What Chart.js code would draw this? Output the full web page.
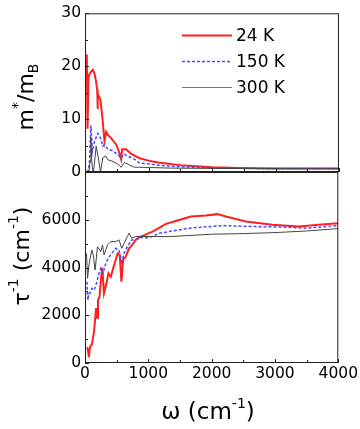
<!DOCTYPE html>
<html>
<head>
<meta charset="utf-8">
<script src="https://cdn.jsdelivr.net/npm/chart.js@4.4.1/dist/chart.umd.min.js"></script>
<style>
    html, body { margin: 0; padding: 0; background: #fff; }
    #wrap { position: relative; width: 360px; height: 429px; }
    #wrap canvas { position: absolute; left: 0; top: 0; }
</style>
</head>
<body>
<div id="wrap">
    <canvas id="bottomChart" width="360" height="429"></canvas>
    <canvas id="topChart" width="360" height="429"></canvas>
</div>
<script>
// effective mass m*/mB (top panel)
const massW24 = [28, 40, 55, 71, 100, 123, 150, 176, 192, 198, 204, 244, 281, 307, 333, 360, 412, 491, 543, 570, 585, 648, 727, 860, 1000, 1150, 1380, 1500, 1750, 2000, 2430, 3000, 3500, 4000];
const mass24 = [22.2, 8.2, 17.8, 18.6, 19.0, 19.3, 18.6, 17.0, 15.5, 11.9, 14.7, 13.7, 9.4, 5.8, 7.6, 7.0, 6.4, 5.2, 3.6, 2.4, 4.3, 4.3, 3.4, 2.6, 2.15, 1.8, 1.45, 1.3, 1.08, 0.92, 0.76, 0.68, 0.66, 0.64];

const massW150 = [22, 45, 70, 92, 118, 150, 202, 244, 281, 307, 360, 438, 518, 570, 612, 675, 780, 860, 1015, 1200, 1400, 1700, 2000, 2500, 3000, 4000];
const mass150 = [0, 0.2, 1.5, 8.8, 4.0, 5.8, 7.3, 6.4, 4.9, 5.2, 4.3, 4.0, 3.3, 2.6, 3.4, 3.0, 2.4, 1.7, 1.5, 1.25, 1.04, 0.9, 0.78, 0.7, 0.66, 0.64];

const massW300 = [22, 60, 80, 92, 105, 118, 134, 176, 205, 244, 280, 330, 360, 440, 518, 570, 622, 700, 780, 860, 1015, 1380, 2000, 2500, 3000, 4000];
const mass300 = [0, 0, 2.0, 6.6, 2.5, 0.4, 0, 4.9, 3.0, 0, 2.7, 3.0, 2.3, 2.0, 1.5, 0.9, 1.8, 1.3, 0.9, 0.9, 0.85, 0.73, 0.68, 0.65, 0.63, 0.62];

// scattering rate 1/tau (bottom panel)
const rateW24 = [35, 50, 62, 80, 110, 145, 175, 190, 205, 230, 250, 272, 300, 339, 370, 407, 460, 517, 549, 575, 602, 643, 696, 748, 800, 880, 1010, 1068, 1279, 1500, 1672, 1909, 2092, 2225, 2539, 2958, 3378, 3693, 4000];
const rate24 = [672, 480, 250, 680, 780, 1374, 2300, 1900, 2634, 2773, 3475, 4000, 2916, 3336, 3756, 3614, 4105, 4600, 4525, 3403, 4315, 4454, 4806, 4946, 5155, 5294, 5437, 5504, 5828, 6000, 6134, 6176, 6235, 6134, 5924, 5786, 5714, 5786, 5857];

const rateW150 = [30, 45, 60, 76, 108, 145, 181, 213, 250, 286, 328, 370, 422, 486, 538, 580, 617, 669, 738, 800, 880, 1000, 1173, 1646, 2170, 2696, 3221, 3483, 4000];
const rate150 = [3400, 2634, 2916, 2916, 3126, 3056, 3336, 3685, 3966, 3756, 4176, 4386, 4597, 4806, 4735, 4244, 4597, 4876, 5155, 5155, 5260, 5230, 5437, 5647, 5756, 5714, 5689, 5647, 5756];

const rateW300 = [24, 40, 66, 108, 130, 160, 197, 250, 276, 302, 355, 407, 486, 538, 580, 617, 669, 696, 738, 800, 900, 1331, 2000, 2500, 3000, 3500, 4000];
const rate300 = [4597, 3546, 4176, 4735, 4525, 3895, 4874, 4664, 4945, 4525, 4945, 5084, 5084, 5155, 4806, 5015, 5294, 5437, 5224, 5294, 5300, 5294, 5394, 5420, 5462, 5530, 5630];

const seriesLabels = ['24 K', '150 K', '300 K'];
const xTicks = [0, 1000, 2000, 3000, 4000];

const FONT = '"DejaVu Sans", sans-serif';
const styles = [
    { borderColor: '#ff1f1f', borderWidth: 2, borderDash: [] },
    { borderColor: '#4a4aff', borderWidth: 1.5, borderDash: [3, 2] },
    { borderColor: '#444444', borderWidth: 1, borderDash: [] },
];

function toPoints(xs, ys) {
    return xs.map((x, i) => ({ x: x, y: ys[i] }));
}

function makeSets(pairs) {
    return pairs.map((p, i) => ({
        label: seriesLabels[i],
        data: toPoints(p[0], p[1]),
        ...styles[i],
        pointRadius: 0,
        tension: 0,
        fill: false,
    }));
}

// draws text pieces with super/subscripts along one baseline
function drawRich(ctx, parts, x, y, rotated) {
    ctx.save();
    ctx.translate(x, y);
    if (rotated) ctx.rotate(-Math.PI / 2);
    let total = 0;
    parts.forEach(p => {
        ctx.font = p.s + 'px ' + FONT;
        total += ctx.measureText(p.t).width;
    });
    let cx = -total / 2;
    ctx.fillStyle = '#000';
    ctx.textBaseline = 'alphabetic';
    ctx.textAlign = 'left';
    parts.forEach(p => {
        ctx.font = p.s + 'px ' + FONT;
        ctx.fillText(p.t, cx, p.dy || 0);
        cx += ctx.measureText(p.t).width;
    });
    ctx.restore();
}

// frame and inward ticks
const framePlugin = {
    id: 'frame',
    afterDatasetsDraw(chart, args, opts) {
        const ctx = chart.ctx;
        const a = chart.chartArea;
        ctx.save();
        ctx.strokeStyle = '#222';
        ctx.lineWidth = 1;
        ctx.strokeRect(a.left + 0.5, a.top + 0.5, a.right - a.left - 1, a.bottom - a.top - 1);
        const xs = chart.scales.x;
        xs.ticks.forEach(t => {
            const px = Math.round(xs.getPixelForValue(t.value)) + 0.5;
            const len = t.value % 1000 === 0 ? 4 : 3;
            ctx.beginPath();
            ctx.moveTo(px, a.bottom);
            ctx.lineTo(px, a.bottom - len);
            ctx.stroke();
        });
        const ys = chart.scales.y;
        ys.ticks.forEach(t => {
            const py = Math.round(ys.getPixelForValue(t.value)) + 0.5;
            const len = t.value % opts.major === 0 ? 4 : 3;
            ctx.beginPath();
            ctx.moveTo(a.left, py);
            ctx.lineTo(a.left + len, py);
            ctx.stroke();
        });
        ctx.restore();
    }
};

const topLegend = {
    id: 'topLegend',
    afterDraw(chart) {
        const ctx = chart.ctx;
        const rows = [35.5, 61.5, 87.5];
        ctx.save();
        rows.forEach((y, i) => {
            ctx.strokeStyle = i === 2 ? '#777' : styles[i].borderColor;
            ctx.lineWidth = styles[i].borderWidth;
            ctx.setLineDash(styles[i].borderDash);
            ctx.beginPath();
            ctx.moveTo(182, y);
            ctx.lineTo(232, y);
            ctx.stroke();
            ctx.setLineDash([]);
            ctx.fillStyle = '#000';
            ctx.font = '17px ' + FONT;
            ctx.textBaseline = 'middle';
            ctx.fillText(seriesLabels[i], 236, y + 1);
        });
        drawRich(ctx, [
            { t: 'm', s: 22 },
            { t: '*', s: 14, dy: -11 },
            { t: '/m', s: 22 },
            { t: 'B', s: 14, dy: 5 },
        ], 33, 97, true);
        ctx.restore();
    }
};

const bottomTitles = {
    id: 'bottomTitles',
    afterDraw(chart) {
        const ctx = chart.ctx;
        drawRich(ctx, [
            { t: 'ω (cm', s: 23 },
            { t: '-1', s: 14, dy: -11 },
            { t: ')', s: 23 },
        ], 208, 419, false);
        drawRich(ctx, [
            { t: 'τ', s: 22 },
            { t: '-1', s: 14, dy: -11 },
            { t: ' (cm', s: 22 },
            { t: '-1', s: 14, dy: -11 },
            { t: ')', s: 22 },
        ], 29, 256, true);
    }
};

function baseOptions(top) {
    return {
        responsive: false,
        animation: false,
        devicePixelRatio: 1,
        layout: { padding: top ? { left: 0, top: 7, right: 21, bottom: 257 } : { left: 0, top: 172, right: 21, bottom: 0 } },
        plugins: { legend: { display: false }, tooltip: { enabled: false } },
        scales: {
            x: {
                type: 'linear',
                min: 0,
                max: 4000,
                display: !top,
                grid: { display: false, drawTicks: false },
                border: { display: false },
                ticks: {
                    stepSize: 500,
                    autoSkip: false,
                    maxRotation: 0,
                    padding: 2,
                    color: '#000',
                    font: { family: FONT, size: 15.5 },
                    callback: v => xTicks.includes(v) ? String(v) : '',
                },
                afterFit: s => { s.height = top ? 0 : 66; },
            },
            y: {
                min: 0,
                max: top ? 30 : 8000,
                grid: { display: false, drawTicks: false },
                border: { display: false },
                ticks: {
                    stepSize: top ? 5 : 1000,
                    autoSkip: false,
                    padding: 4,
                    color: '#000',
                    font: { family: FONT, size: 15.5 },
                    callback: top
                        ? (v => v % 10 === 0 ? String(v) : '')
                        : (v => (v % 2000 === 0 && v < 8000) ? String(v) : ''),
                },
                afterFit: s => { s.width = 85; },
            }
        },
    };
}

const topOpts = baseOptions(true);
topOpts.plugins.frame = { major: 10 };
new Chart(document.getElementById('topChart').getContext('2d'), {
    type: 'line',
    data: { datasets: makeSets([[massW24, mass24], [massW150, mass150], [massW300, mass300]]).reverse() },
    options: topOpts,
    plugins: [framePlugin, topLegend],
});

const botOpts = baseOptions(false);
botOpts.plugins.frame = { major: 2000 };
new Chart(document.getElementById('bottomChart').getContext('2d'), {
    type: 'line',
    data: { datasets: makeSets([[rateW24, rate24], [rateW150, rate150], [rateW300, rate300]]).reverse() },
    options: botOpts,
    plugins: [framePlugin, bottomTitles],
});
</script>
</body>
</html>
